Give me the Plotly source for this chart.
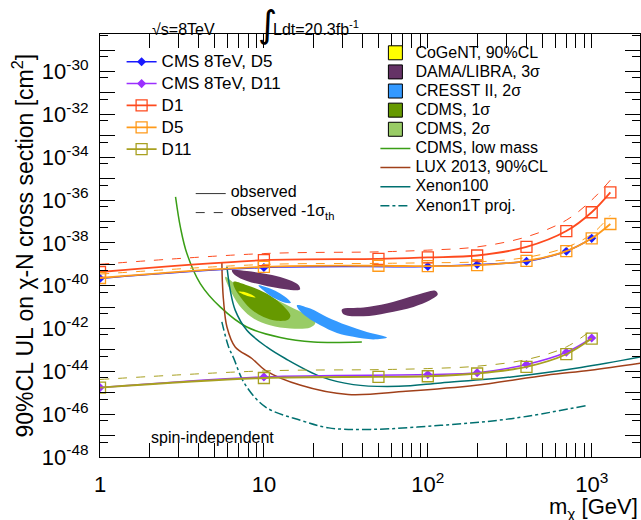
import plotly.graph_objects as go

F = "Liberation Sans, Arial, sans-serif"

# ---------------- data (mass in GeV, cross-section as log10 of cm^2) ----------------
mass_D = [1, 10, 50, 100, 200, 400, 700, 1000, 1300]
D1_obs = [-39.36, -38.81, -38.75, -38.68, -38.59, -38.19, -37.45, -36.57, -35.64]
D1_m1s = [-39.00, -38.50, -38.42, -38.34, -38.19, -37.72, -36.94, -36.00, -35.07]
D5_obs = [-39.64, -39.12, -39.07, -39.09, -39.04, -38.84, -38.39, -37.79, -37.12]
D5_m1s = [-39.46, -39.01, -38.96, -38.93, -38.89, -38.68, -38.21, -37.59, -36.71]

mass_D11 = [1, 10, 50, 100, 200, 400, 700, 1000]
D11_obs = [-44.76, -44.31, -44.26, -44.23, -44.10, -43.79, -43.20, -42.47]
D11_m1s = [-44.38, -43.98, -43.92, -43.87, -43.76, -43.45, -42.86, -42.06]

mass_CMS = [1, 10, 100, 200, 400, 700, 1000]
CMS_D5 = [-39.66, -39.15, -39.10, -39.01, -38.86, -38.39, -37.79]
CMS_D11 = [-44.76, -44.26, -44.15, -44.06, -43.68, -43.11, -42.44]

cdmslow_m = [2.89, 3.1, 3.39, 4.09, 5.41, 7.87, 12.6, 20.1, 39.6]
cdmslow_s = [-35.85, -37.3, -38.5, -39.9, -40.99, -41.93, -42.42, -42.63, -42.63]

lux_m = [5.54, 5.58, 5.67, 5.95, 6.68, 8.45, 10.2, 16.8, 32.6, 73.5, 197, 527, 980, 1977]
lux_s = [-38.9, -39.8, -40.68, -41.93, -42.86, -43.40, -43.95, -44.65, -45.08, -44.93, -44.65, -44.18, -43.95, -43.62]

xe100_m = [5.95, 6.23, 6.68, 7.87, 10.4, 13.5, 22.5, 35.1, 66.6, 120, 323, 860, 1977]
xe100_s = [-39.12, -40.21, -41.14, -42.08, -42.86, -43.40, -44.26, -44.62, -44.70, -44.54, -44.26, -43.82, -43.33]

xe1t_m = [5.54, 6.09, 6.52, 7.62, 10.2, 16.8, 24.9, 44.9, 120, 323, 950]
xe1t_s = [-41.69, -42.86, -43.36, -44.57, -45.66, -46.29, -46.64, -46.71, -46.52, -46.21, -45.58]

cogent_m = [7.0, 7.6, 8.3, 8.9, 8.3, 7.6, 7.0]
cogent_s = [-40.28, -40.30, -40.40, -40.55, -40.52, -40.42, -40.28]

dama1_m = [6.38, 7.88, 9.95, 12.57, 14.8, 16.3, 16.6, 15.2, 12.57, 9.95, 7.88, 6.68, 6.38]
dama1_s = [-39.28, -39.32, -39.43, -39.59, -39.78, -39.98, -40.18, -40.21, -40.13, -39.98, -39.78, -39.51, -39.28]
dama2_m = [29.9, 40.5, 56.3, 78.1, 98.7, 111, 115, 103, 81.8, 56.3, 40.5, 30.6, 29.9]
dama2_s = [-41.11, -41.02, -40.83, -40.52, -40.29, -40.24, -40.40, -40.68, -40.99, -41.27, -41.43, -41.33, -41.11]

cresst1_m = [9.27, 10.9, 12.57, 14.1, 14.6, 13.5, 11.7, 10.2, 9.40, 9.27]
cresst1_s = [-39.98, -40.13, -40.36, -40.64, -40.80, -40.80, -40.60, -40.29, -40.06, -39.98]
cresst2_m = [15.9, 19.2, 24.2, 32.1, 42.5, 56.3, 46.6, 35.2, 27.9, 22.1, 18.3, 16.3, 15.9]
cresst2_s = [-40.91, -41.07, -41.46, -41.85, -42.16, -42.42, -42.51, -42.39, -42.21, -41.85, -41.46, -41.11, -40.91]

cdms2_m = [5.81, 6.68, 8.65, 11.5, 15.2, 19.2, 20.6, 19.2, 14.5, 10.9, 8.65, 7.34, 6.38, 5.81]
cdms2_s = [-39.59, -39.90, -40.21, -40.60, -41.07, -41.46, -41.74, -41.95, -42.00, -41.85, -41.53, -41.07, -40.36, -39.59]
cdms1_m = [6.53, 7.88, 9.95, 12.0, 14.5, 14.1, 12.0, 9.95, 8.25, 7.17, 6.59, 6.53]
cdms1_s = [-39.82, -39.98, -40.29, -40.68, -41.38, -41.58, -41.64, -41.46, -41.07, -40.52, -40.06, -39.82]

x_ticks = [1, 10, 100, 1000]
x_ticktext = ["1", "10", "10<sup>2</sup>", "10<sup>3</sup>"]
y_label_exps = list(range(-48, -29, 2))
y_odd_exps = list(range(-47, -28, 2))

# colours
C_D1, C_D5, C_D11 = "#fe4a1e", "#ff9a1a", "#a8a020"
C_CMS5, C_CMS11 = "#1a1aff", "#9b30ff"
C_CDMSL, C_LUX, C_XE = "#3a9e16", "#a0401a", "#007070"
C_COG, C_DAMA, C_CRE, C_CD1, C_CD2 = "#ffff00", "#653366", "#3399ff", "#669900", "#99cc66"


def S(v):
    return [10 ** e for e in v]


def sp(t, size):
    return '<span style="font-size:%dpx">%s</span>' % (size, t)


fig = go.Figure()

# filled regions
for m, s, c in [(cdms2_m, cdms2_s, C_CD2), (cdms1_m, cdms1_s, C_CD1),
                (cogent_m, cogent_s, C_COG), (dama1_m, dama1_s, C_DAMA),
                (dama2_m, dama2_s, C_DAMA), (cresst1_m, cresst1_s, C_CRE),
                (cresst2_m, cresst2_s, C_CRE)]:
    fig.add_trace(go.Scatter(x=m, y=S(s), mode="lines", fill="toself", fillcolor=c,
                             line=dict(width=0, shape="spline", smoothing=1.0),
                             showlegend=False, hoverinfo="skip"))

# legend swatches for regions
for name, c in [("CoGeNT, 90%CL", C_COG), ("DAMA/LIBRA, 3σ", C_DAMA),
                ("CRESST II, 2σ", C_CRE), ("CDMS, 1σ", C_CD1), ("CDMS, 2σ", C_CD2)]:
    fig.add_trace(go.Scatter(x=[None], y=[None], mode="markers",
                             marker=dict(symbol="square", size=14, color=c,
                                         line=dict(color="black", width=1)),
                             name=sp(name, 16), legend="legend2"))

# experimental curves
fig.add_trace(go.Scatter(x=cdmslow_m, y=S(cdmslow_s), mode="lines", name=sp("CDMS, low mass", 16),
                         line=dict(color=C_CDMSL, width=1.5, shape="spline"), legend="legend2"))
fig.add_trace(go.Scatter(x=lux_m, y=S(lux_s), mode="lines", name=sp("LUX 2013, 90%CL", 16),
                         line=dict(color=C_LUX, width=1.5, shape="spline"), legend="legend2"))
fig.add_trace(go.Scatter(x=xe100_m, y=S(xe100_s), mode="lines", name=sp("Xenon100", 16),
                         line=dict(color=C_XE, width=1.5, shape="spline"), legend="legend2"))
fig.add_trace(go.Scatter(x=xe1t_m, y=S(xe1t_s), mode="lines", name=sp("Xenon1T proj.", 16),
                         line=dict(color=C_XE, width=1.5, shape="spline", dash="dashdot"),
                         legend="legend2"))

# CMS
fig.add_trace(go.Scatter(x=mass_CMS, y=S(CMS_D5), mode="lines+markers", name=sp("CMS 8TeV, D5", 17),
                         line=dict(color=C_CMS5, width=1.5, shape="spline"),
                         marker=dict(symbol="diamond", size=7, color=C_CMS5), legend="legend"))
fig.add_trace(go.Scatter(x=mass_CMS, y=S(CMS_D11), mode="lines+markers", name=sp("CMS 8TeV, D11", 17),
                         line=dict(color=C_CMS11, width=1.5, shape="spline"),
                         marker=dict(symbol="diamond", size=7, color=C_CMS11), legend="legend"))

# ATLAS D1, D5, D11 dashed (-1 sigma theory)
for m, s, c in [(mass_D, D1_m1s, C_D1), (mass_D, D5_m1s, C_D5), (mass_D11, D11_m1s, C_D11)]:
    fig.add_trace(go.Scatter(x=m, y=S(s), mode="lines", showlegend=False,
                             line=dict(color=c, width=1, dash="dash", shape="spline")))
# observed
for m, s, c, n in [(mass_D, D1_obs, C_D1, "D1"), (mass_D, D5_obs, C_D5, "D5"),
                   (mass_D11, D11_obs, C_D11, "D11")]:
    fig.add_trace(go.Scatter(x=m, y=S(s), mode="lines+markers", name=sp(n, 17),
                             line=dict(color=c, width=1.8, shape="spline"),
                             marker=dict(symbol="square-open", size=11, color=c, line=dict(width=1.3)),
                             legend="legend"))

# observed / -1 sigma legend
fig.add_trace(go.Scatter(x=[None], y=[None], mode="lines", name=sp("observed", 16),
                         line=dict(color="#333333", width=1), legend="legend3"))
fig.add_trace(go.Scatter(x=[None], y=[None], mode="lines", name=sp("observed -1σ<sub>th</sub>", 16),
                         line=dict(color="#333333", width=1, dash="dash"), legend="legend3"))

# helper trace on an overlaid y axis that only carries the short ticks
fig.add_trace(go.Scatter(x=[None], y=[None], yaxis="y2", showlegend=False, hoverinfo="skip"))

xminor = [k * 10 ** n for n in range(0, 4) for k in range(2, 10) if k * 10 ** n < 2000]
yshort = [5 * 10.0 ** n for n in range(-49, -28)]
YR = [-48, -28.247]

fig.update_xaxes(type="log", range=[0, 3.2947], tickmode="array", tickvals=x_ticks, ticktext=x_ticktext,
                 ticks="inside", ticklen=14, tickwidth=1, tickcolor="black",
                 showline=True, linecolor="black", linewidth=1, mirror="allticks",
                 showgrid=False, zeroline=False, ticklabelstandoff=8,
                 tickfont=dict(size=22, family=F, color="black"),
                 minor=dict(tickvals=xminor, ticks="inside", ticklen=7, tickcolor="black", showgrid=False))

fig.update_layout(
    width=641, height=520, margin=dict(l=100, r=1, t=34, b=63),
    paper_bgcolor="white", plot_bgcolor="white",
    font=dict(family=F, color="black"),
    showlegend=True,
    yaxis=dict(type="log", range=YR, tickmode="array",
               tickvals=[10.0 ** e for e in y_label_exps],
               ticktext=["10<sup>%d</sup>" % e for e in y_label_exps],
               ticks="inside", ticklen=15, tickwidth=1, tickcolor="black",
               showline=True, linecolor="black", linewidth=1, mirror="allticks",
               showgrid=False, zeroline=False, ticklabelstandoff=6,
               tickfont=dict(size=22, family=F, color="black"),
               minor=dict(tickvals=[10.0 ** e for e in y_odd_exps], ticks="inside", ticklen=15,
                          tickcolor="black", showgrid=False)),
    yaxis2=dict(type="log", range=YR, overlaying="y", side="left", tickmode="array",
                tickvals=yshort, showticklabels=False, ticks="inside", ticklen=8,
                tickcolor="black", showline=False, mirror="allticks", showgrid=False,
                zeroline=False),
    legend=dict(x=0.04, y=0.972, xanchor="left", yanchor="top", bgcolor="rgba(0,0,0,0)",
                font=dict(size=14.5, family=F), tracegroupgap=0, itemwidth=30),
    legend2=dict(x=0.51, y=0.99, xanchor="left", yanchor="top", bgcolor="rgba(0,0,0,0)",
                 font=dict(size=12.4, family=F), tracegroupgap=0, itemwidth=30),
    legend3=dict(x=0.168, y=0.657, xanchor="left", yanchor="top", bgcolor="rgba(0,0,0,0)",
                 font=dict(size=10, family=F), tracegroupgap=0, itemwidth=30),
    annotations=[
        dict(text="√s=8TeV", xref="paper", yref="paper", x=0.0926, y=0.986, xanchor="left",
             yanchor="bottom", showarrow=False, font=dict(size=16, family=F)),
        dict(text="∫", xref="paper", yref="paper", x=0.311, y=1.022, xanchor="center",
             yanchor="middle", showarrow=False, font=dict(size=37, family="DejaVu Sans")),
        dict(text="Ldt=20.3fb<sup>-1</sup>", xref="paper", yref="paper", x=0.3167, y=0.986,
             xanchor="left", yanchor="bottom", showarrow=False, font=dict(size=16, family=F)),
        dict(text="spin-independent", xref="paper", yref="paper", x=0.0907, y=0.0466,
             xanchor="left", yanchor="middle", showarrow=False, font=dict(size=16, family=F)),
        dict(text="m<sub>χ</sub> [GeV]", xref="paper", yref="paper", x=1.0, y=-0.082,
             xanchor="right", yanchor="top", showarrow=False, font=dict(size=22, family=F)),
        dict(text="90%CL UL on χ-N cross section [cm<sup>2</sup>]", xref="paper", yref="paper",
             x=-0.1426, y=0.5, xanchor="center", yanchor="middle", textangle=-90,
             showarrow=False, font=dict(size=23, family=F)),
    ],
)

fig.write_html("out.html", config={"displayModeBar": False},
               post_script="document.body.style.margin='0px';")
